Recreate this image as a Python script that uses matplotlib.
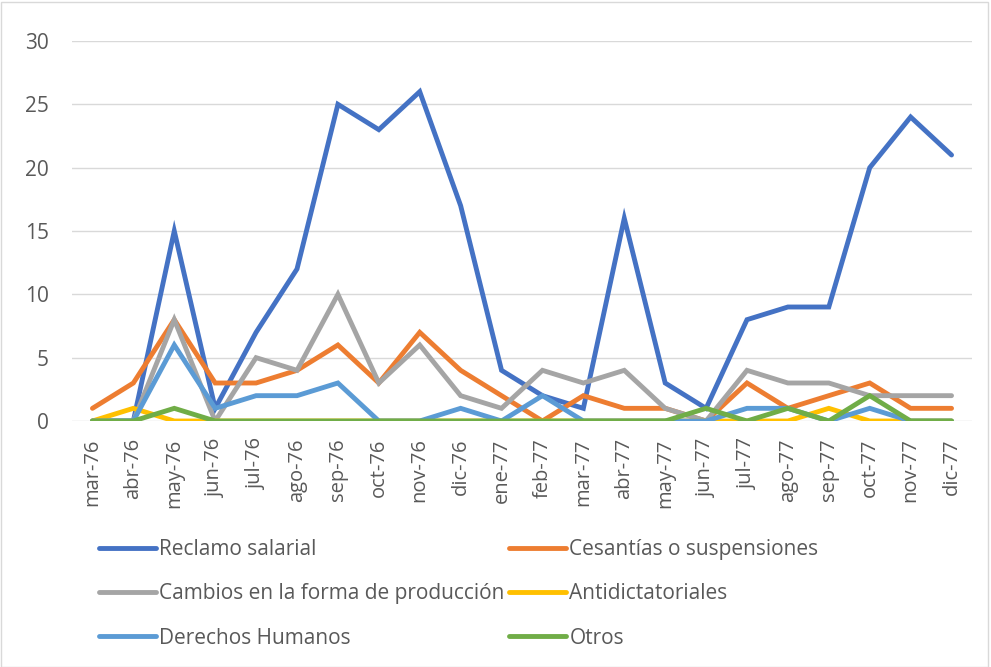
import matplotlib.pyplot as plt
from matplotlib.patches import Rectangle

plt.rcParams['font.family'] = ['Open Sans', 'DejaVu Sans']

meses = ['mar-76', 'abr-76', 'may-76', 'jun-76', 'jul-76', 'ago-76', 'sep-76',
         'oct-76', 'nov-76', 'dic-76', 'ene-77', 'feb-77', 'mar-77', 'abr-77',
         'may-77', 'jun-77', 'jul-77', 'ago-77', 'sep-77', 'oct-77', 'nov-77', 'dic-77']

reclamo = [0, 0, 15, 1, 7, 12, 25, 23, 26, 17, 4, 2, 1, 16, 3, 1, 8, 9, 9, 20, 24, 21]
cesantias = [1, 3, 8, 3, 3, 4, 6, 3, 7, 4, 2, 0, 2, 1, 1, 0, 3, 1, 2, 3, 1, 1]
cambios = [0, 0, 8, 0, 5, 4, 10, 3, 6, 2, 1, 4, 3, 4, 1, 0, 4, 3, 3, 2, 2, 2]
antidict = [0, 1, 0, 0, 0, 0, 0, 0, 0, 0, 0, 0, 0, 0, 0, 0, 0, 0, 1, 0, 0, 0]
ddhh = [0, 0, 6, 1, 2, 2, 3, 0, 0, 1, 0, 2, 0, 0, 0, 0, 1, 1, 0, 1, 0, 0]
otros = [0, 0, 1, 0, 0, 0, 0, 0, 0, 0, 0, 0, 0, 0, 0, 1, 0, 1, 0, 2, 0, 0]

series = [
    ('Reclamo salarial', reclamo, '#4472C4'),
    ('Cesantías o suspensiones', cesantias, '#ED7D31'),
    ('Cambios en la forma de producción', cambios, '#A5A5A5'),
    ('Antidictatoriales', antidict, '#FFC000'),
    ('Derechos Humanos', ddhh, '#5B9BD5'),
    ('Otros', otros, '#70AD47'),
]

fig = plt.figure(figsize=(9.91, 6.67), dpi=100)
ax = fig.add_axes([72 / 991, 1 - 421 / 667, 900 / 991, 380 / 667])

x = list(range(len(meses)))
handles = {}
for name, vals, col in series:
    ln, = ax.plot(x, vals, color=col, lw=3.5, solid_capstyle='round',
                  solid_joinstyle='miter', label=name, zorder=3)
    handles[name] = ln

ax.set_xlim(-0.5, len(meses) - 0.5)
ax.set_ylim(0, 30)
ax.set_yticks(range(0, 31, 5))
ax.set_xticks(x)
ax.set_xticklabels(meses, rotation=90)
ax.grid(axis='y', color='#d9d9d9', lw=1.0, zorder=0)
for s in ax.spines.values():
    s.set_visible(False)
ax.tick_params(length=0, labelsize=15, colors='#595959')
ax.tick_params(axis='y', pad=16.5)
ax.tick_params(axis='x', labelsize=14.5, pad=12.5)

# legend in two columns, drawn as two separate legends
col1 = ['Reclamo salarial', 'Cambios en la forma de producción', 'Derechos Humanos']
col2 = ['Cesantías o suspensiones', 'Antidictatoriales', 'Otros']
for names, xpos in [(col1, 99 / 991), (col2, 509 / 991)]:
    leg = fig.legend([handles[n] for n in names], names, loc='upper left',
                     bbox_to_anchor=(xpos, 1 - 539 / 667), frameon=False,
                     fontsize=15, handlelength=2.75, handletextpad=0.15,
                     labelspacing=1.12, borderpad=0, borderaxespad=0)
    for t in leg.get_texts():
        t.set_color('#595959')

fig.add_artist(Rectangle((0.5 / 991, 0.5 / 667), 987 / 991, 665 / 667,
                         transform=fig.transFigure, fill=False,
                         edgecolor='#d9d9d9', lw=1))

fig.savefig('out.png', dpi=100)
